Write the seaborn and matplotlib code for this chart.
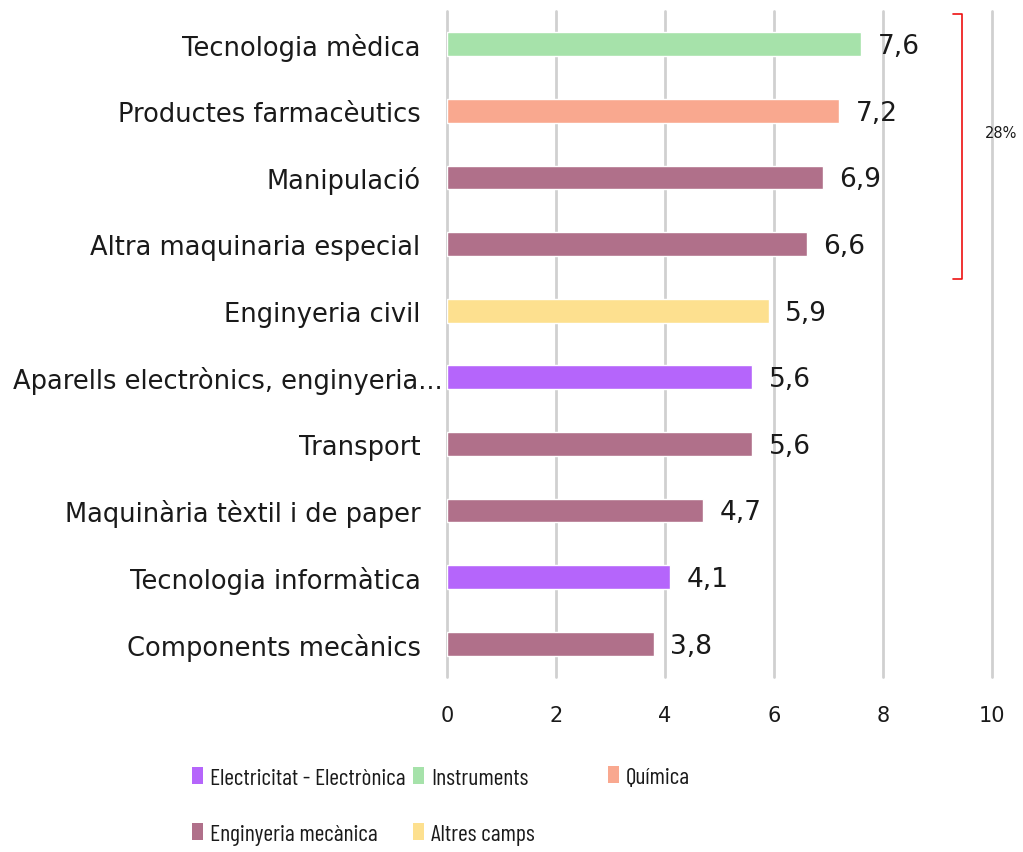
import numpy as np
import pandas as pd
import matplotlib
matplotlib.use('Agg')
import matplotlib.pyplot as plt
import matplotlib.transforms as mtransforms
import seaborn as sns
from matplotlib.patches import Patch

# data
categories = ['Tecnologia mèdica', 'Productes farmacèutics', 'Manipulació',
              'Altra maquinaria especial', 'Enginyeria civil',
              'Aparells electrònics, enginyeria...', 'Transport',
              'Maquinària tèxtil i de paper', 'Tecnologia informàtica',
              'Components mecànics']
values = [7.6, 7.2, 6.9, 6.6, 5.9, 5.6, 5.6, 4.7, 4.1, 3.8]
groups = ['Instruments', 'Química', 'Enginyeria mecànica', 'Enginyeria mecànica',
          'Altres camps', 'Electricitat - Electrònica', 'Enginyeria mecànica',
          'Enginyeria mecànica', 'Electricitat - Electrònica', 'Enginyeria mecànica']
colors = {'Electricitat - Electrònica': '#b565fb',
          'Instruments': '#a6e2aa',
          'Química': '#f9a88f',
          'Enginyeria mecànica': '#b0708a',
          'Altres camps': '#fde08f'}
x_ticks = [0, 2, 4, 6, 8, 10]
bracket_label = '28%'

df = pd.DataFrame({'category': categories, 'value': values, 'group': groups})

sns.set_style('white')
plt.rcParams['font.family'] = ['DejaVu Sans']

fig = plt.figure(figsize=(10.23, 8.53), dpi=100)
ax = fig.add_axes([447 / 1023, 1 - 678 / 853, 545 / 1023, 666 / 853])

sns.barplot(data=df, y='category', x='value', hue='group', palette=colors,
            dodge=False, width=0.36, orient='h', ax=ax, legend=False,
            saturation=1, zorder=3)

ax.set_xlim(0, 10)
ax.set_ylim(9.5, -0.5)
ax.set_xticks(x_ticks)
ax.set_xticklabels([str(t) for t in x_ticks], fontsize=15, color='#1a1a1a')
ax.tick_params(axis='x', pad=20, length=0)
ax.tick_params(axis='y', pad=19, length=0, labelsize=18.5, labelcolor='#1a1a1a')
ax.set_xlabel('')
ax.set_ylabel('')
for s in ax.spines.values():
    s.set_visible(False)
ax.grid(axis='x', color='#d0d0d0', linewidth=2, zorder=0)
for gl in ax.get_xgridlines():
    gl.set_clip_on(False)
ax.set_axisbelow(True)

# the long truncated label sits closer to the axis in the reference
for lab in ax.get_yticklabels():
    if lab.get_text().endswith('...'):
        lab.set_transform(lab.get_transform() +
                          mtransforms.ScaledTranslation(0.22, 0, fig.dpi_scale_trans))

for i, v in enumerate(values):
    ax.text(v + 0.3, i + 0.03, f'{v:.1f}'.replace('.', ','), va='center', ha='left',
            fontsize=19, color='#1a1a1a')

# red bracket at right
bx0, bx1 = 953 / 1023, 962 / 1023
by0, by1 = 1 - 15 / 853, 1 - 280 / 853
fig.add_artist(plt.Line2D([bx0, bx1, bx1, bx0], [by0, by0, by1, by1],
                          color='#ee1111', linewidth=1.2, transform=fig.transFigure))
fig.text(1001 / 1023, 1 - 133 / 853, bracket_label, ha='center', va='center',
         fontsize=10.5, color='#1a1a1a')

leg_font = {'family': ['Barlow Condensed', 'Archivo Narrow', 'DejaVu Sans'], 'size': 17}
h = lambda g: Patch(facecolor=colors[g], edgecolor='none', label=g)
leg_kw = dict(frameon=False, prop=leg_font, handlelength=0.47, handleheight=0.72,
              handletextpad=0.3, borderpad=0, borderaxespad=0, labelcolor='#1a1a1a')
leg1 = fig.legend(handles=[h('Electricitat - Electrònica'), h('Enginyeria mecànica'),
                           h('Instruments'), h('Altres camps')],
                  ncol=2, loc='center left', bbox_to_anchor=(192 / 1023, 1 - 807 / 853),
                  columnspacing=0.3, labelspacing=1.45, **leg_kw)
leg2 = fig.legend(handles=[h('Química')], loc='center left',
                  bbox_to_anchor=(608 / 1023, 1 - 778 / 853), **leg_kw)

fig.savefig('out.png', dpi=100)
